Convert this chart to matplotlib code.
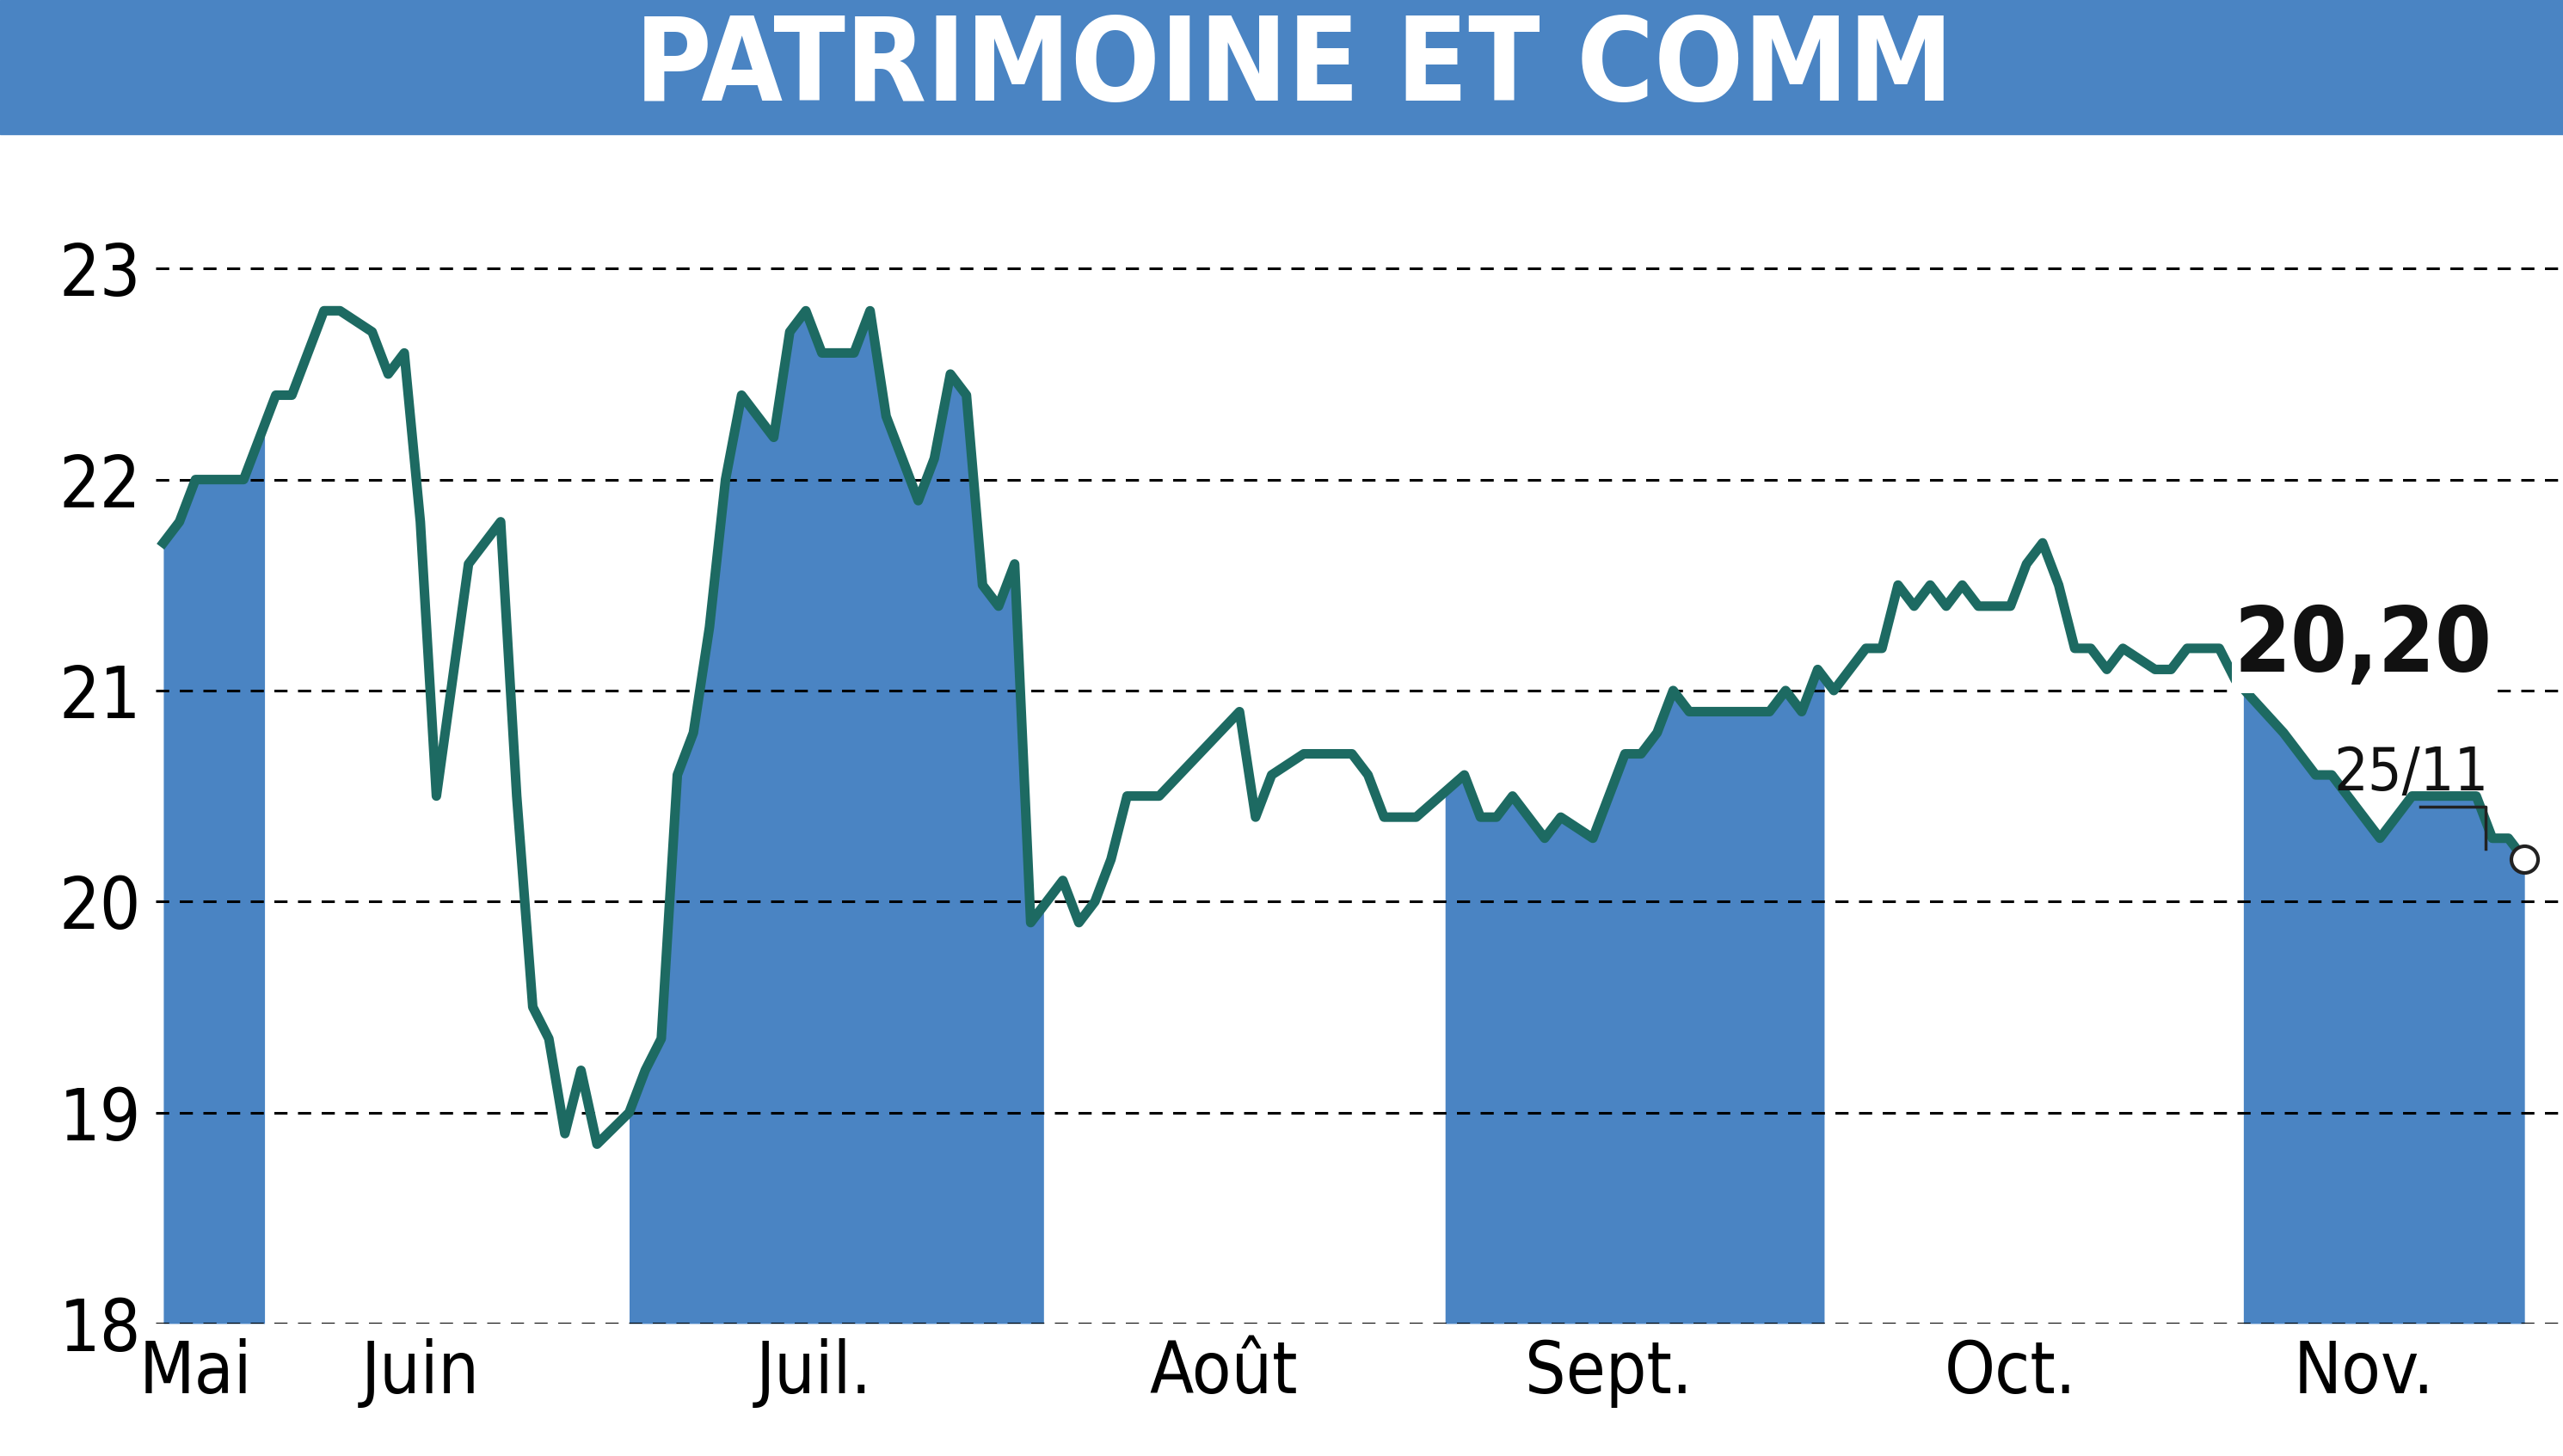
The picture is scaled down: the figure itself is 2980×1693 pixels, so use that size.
import matplotlib
matplotlib.use("Agg")
import matplotlib.pyplot as plt
import numpy as np

# trading-day index and closing price
days = [0, 1, 2, 5, 7, 8, 10, 11, 13, 14, 15, 16, 17, 19, 21, 22, 23, 24, 25, 26,
        27, 29, 30, 31, 32, 33, 34, 35, 36, 38, 39, 40, 41, 43, 44, 45, 47, 48, 49, 50,
        51, 52, 53, 54, 56, 57, 58, 59, 60, 62, 67, 68, 69, 71, 74, 75, 76, 78, 81, 82,
        83, 84, 86, 87, 89, 91, 92, 93, 94, 95, 100, 101, 102, 103, 104, 106, 107, 108, 109, 110,
        111, 112, 113, 115, 116, 117, 118, 119, 120, 121, 122, 124, 125, 126, 128, 129, 132, 133, 134, 135,
        136, 137, 138, 140, 142, 144, 145, 146, 147]
prices = [21.7, 21.8, 22.0, 22.0, 22.4, 22.4, 22.8, 22.8, 22.7, 22.5, 22.6, 21.8, 20.5, 21.6, 21.8, 20.5, 19.5, 19.35, 18.9, 19.2,
          18.85, 19.0, 19.2, 19.35, 20.6, 20.8, 21.3, 22.0, 22.4, 22.2, 22.7, 22.8, 22.6, 22.6, 22.8, 22.3, 21.9, 22.1, 22.5, 22.4,
          21.5, 21.4, 21.6, 19.9, 20.1, 19.9, 20.0, 20.2, 20.5, 20.5, 20.9, 20.4, 20.6, 20.7, 20.7, 20.6, 20.4, 20.4, 20.6, 20.4,
          20.4, 20.5, 20.3, 20.4, 20.3, 20.7, 20.7, 20.8, 21.0, 20.9, 20.9, 21.0, 20.9, 21.1, 21.0, 21.2, 21.2, 21.5, 21.4, 21.5,
          21.4, 21.5, 21.4, 21.4, 21.6, 21.7, 21.5, 21.2, 21.2, 21.1, 21.2, 21.1, 21.1, 21.2, 21.2, 21.05, 20.8, 20.7, 20.6, 20.6,
          20.5, 20.4, 20.3, 20.5, 20.5, 20.5, 20.3, 20.3, 20.2]

month_labels = ["Mai", "Juin", "Juil.", "Août", "Sept.", "Oct.", "Nov."]
month_pos = [2, 16, 40.5, 66, 90, 115, 137]
shaded = [(0, 6.3), (29, 54.8), (79.8, 103.4), (129.5, 147)]
yticks = [18, 19, 20, 21, 22, 23]

blue = "#4a84c3"
line_c = "#1d6a62"
fnt = dict(family="DejaVu Sans", stretch="condensed")

fig = plt.figure(figsize=(29.8, 16.93), dpi=100)
fig.patches.append(plt.Rectangle((0, 0.908), 1, 0.092, transform=fig.transFigure,
                                 color=blue, zorder=0))
fig.text(0.505, 0.953, "PATRIMOINE ET COMM", ha="center", va="center", color="white",
         fontsize=98, fontweight="bold", **fnt)

ax = fig.add_axes([0.0606, 0.091, 0.9394, 0.797])
x = np.array(days, float)
y = np.array(prices)
for a, b in shaded:
    xx = np.linspace(a, b, 400)
    ax.fill_between(xx, 18, np.interp(xx, x, y), color=blue, lw=0, zorder=1)
ax.plot(x, y, color=line_c, lw=8, solid_joinstyle="round", zorder=3)
ax.scatter([x[-1]], [y[-1]], s=500, facecolor="white", edgecolor="#222222", lw=3, zorder=5)
ax.plot([140.5, 144.6, 144.6], [20.45, 20.45, 20.25], color="#222222", lw=2.5, zorder=4)

ax.text(145.0, 21.0, "20,20", ha="right", va="bottom", fontsize=76, fontweight="bold",
        color="#111111", zorder=6, **fnt,
        bbox=dict(facecolor="white", edgecolor="none", pad=2))
ax.text(144.8, 20.47, "25/11", ha="right", va="bottom", fontsize=50,
        color="#111111", zorder=6, **fnt)

ax.set_xlim(-0.5, 149.4)
ax.set_ylim(18, 23.5)
ax.set_yticks(yticks)
ax.set_yticklabels([str(v) for v in yticks], fontsize=60, **fnt)
ax.set_xticks(month_pos)
ax.set_xticklabels(month_labels, fontsize=60, **fnt)
ax.tick_params(length=0, pad=12)
for v in yticks:
    ax.axhline(v, color="black", lw=2.2, ls=(0, (5, 4)), zorder=2)
for s in ax.spines.values():
    s.set_visible(False)

fig.savefig("out.png", dpi=100)
